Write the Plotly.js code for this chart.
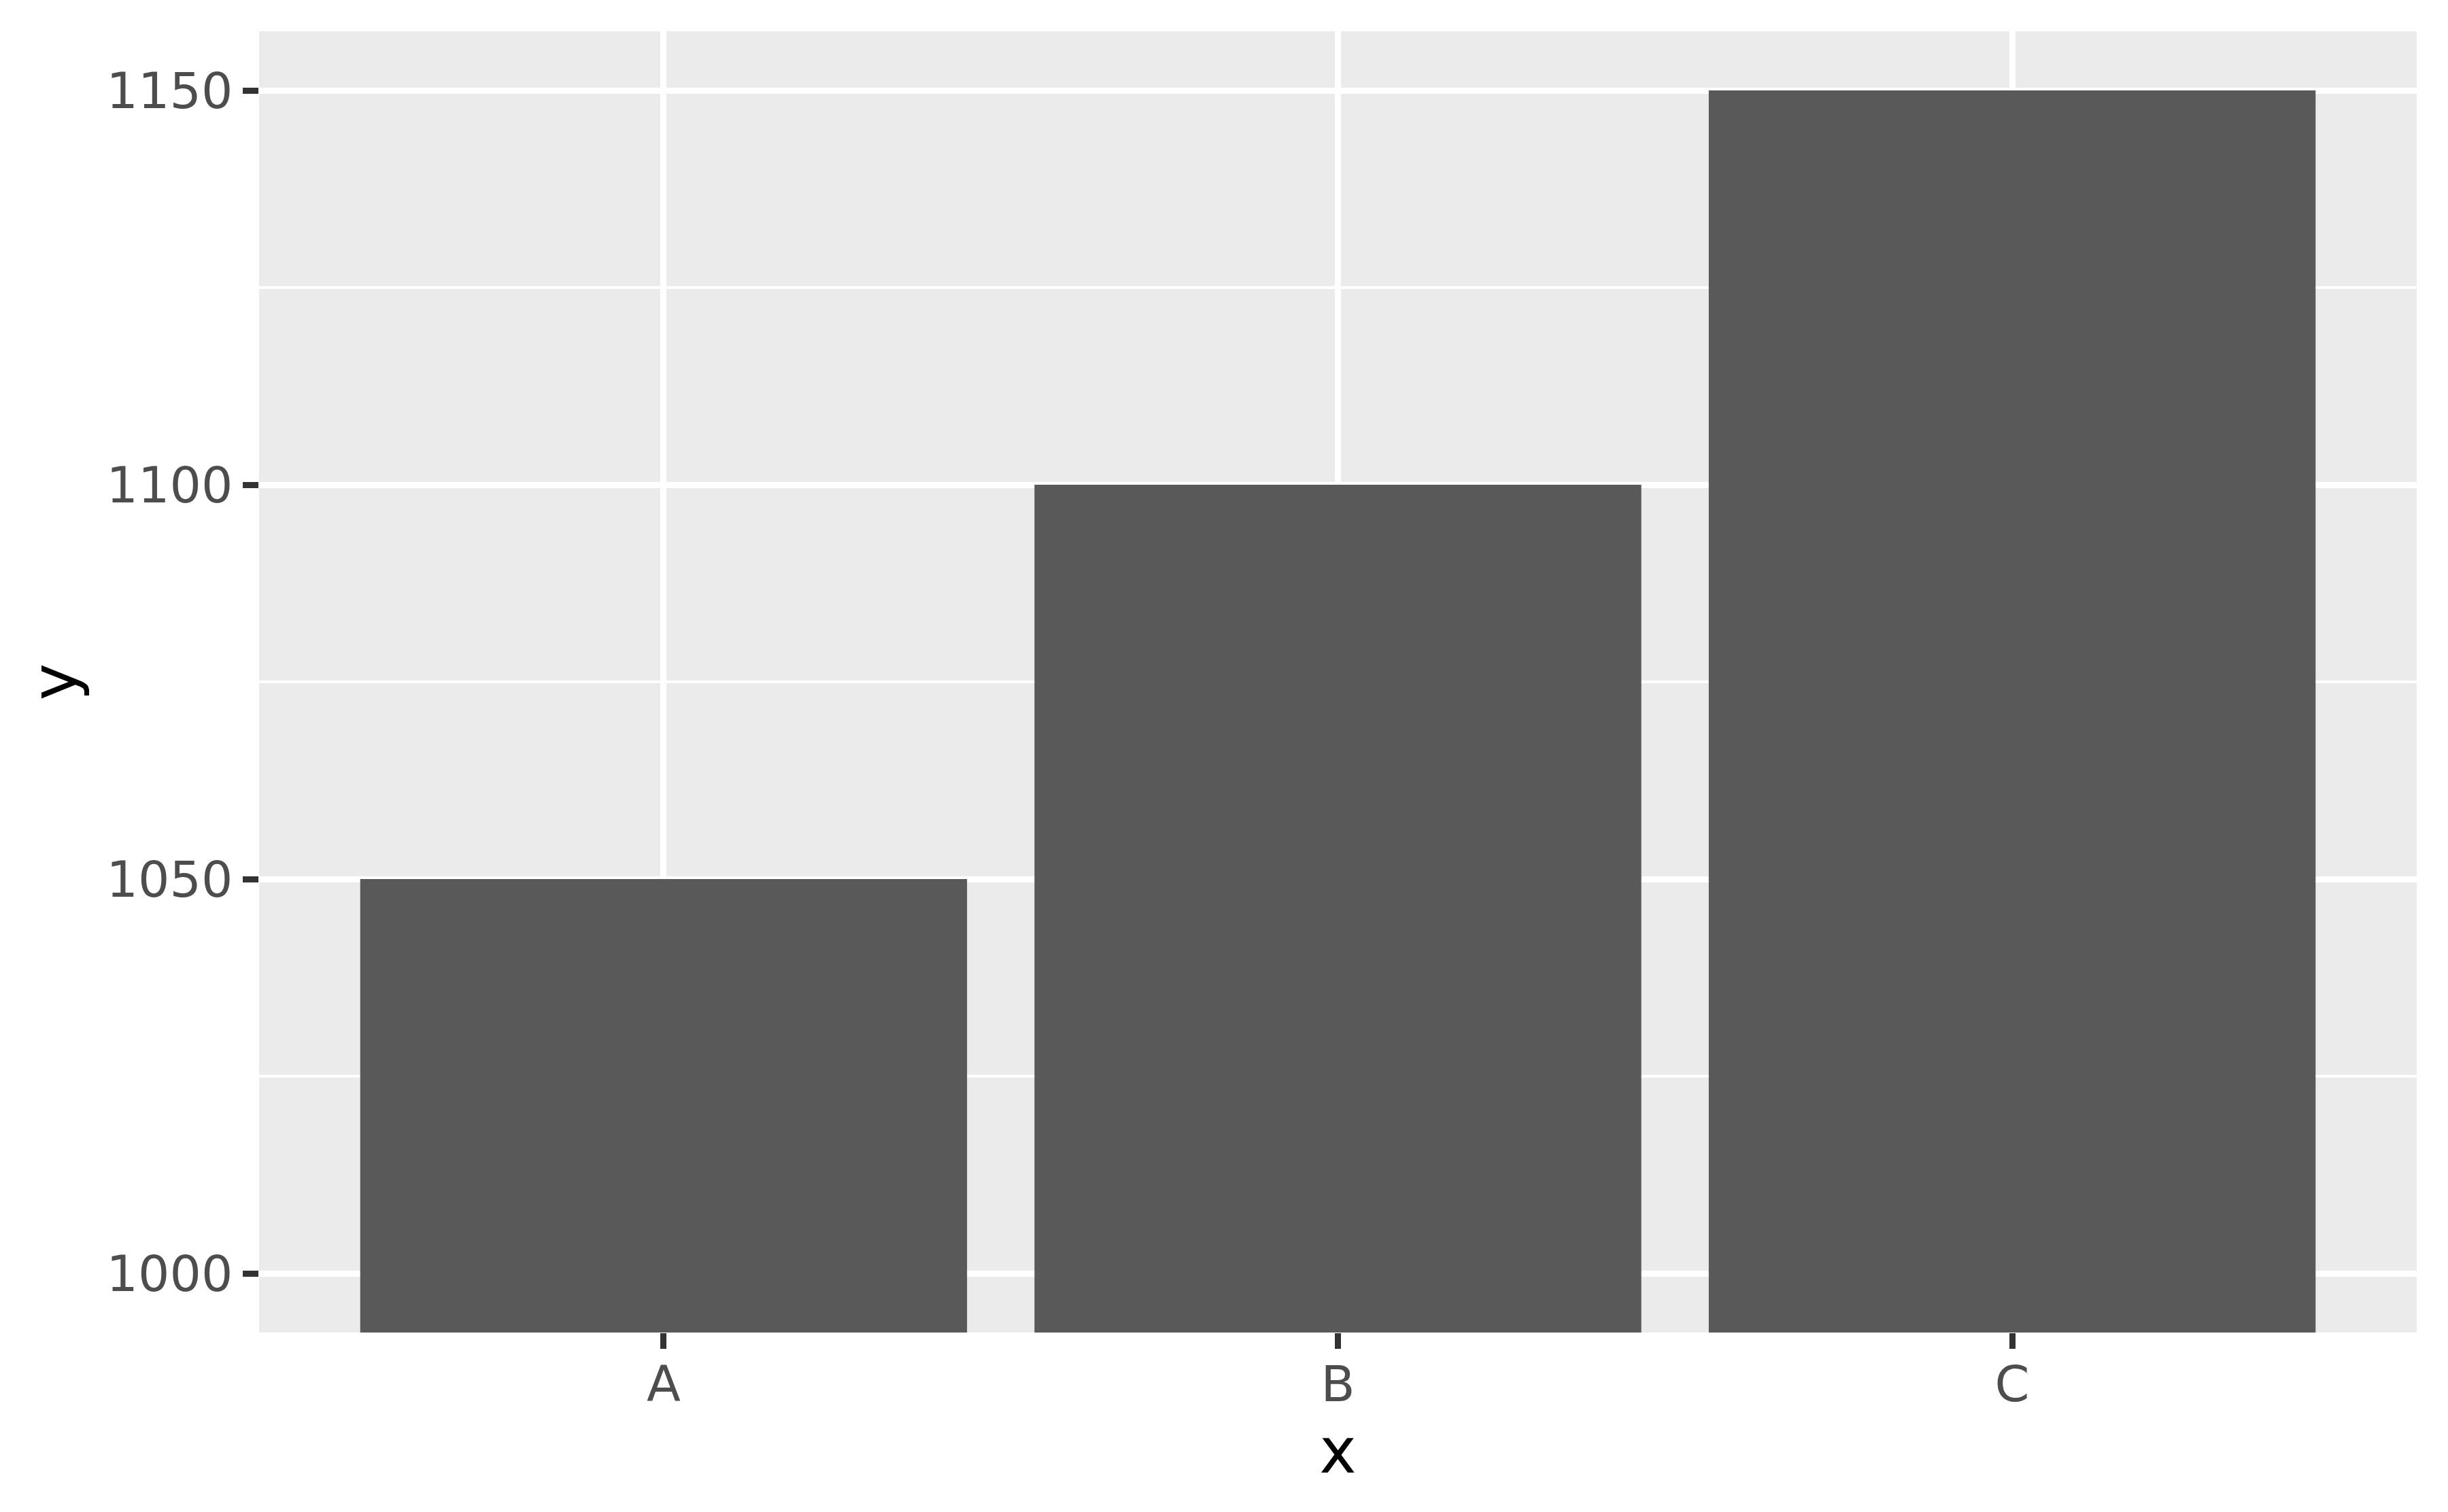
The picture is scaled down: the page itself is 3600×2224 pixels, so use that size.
<!DOCTYPE html>
<html>
<head>
<meta charset="utf-8">
<script src="https://cdn.plot.ly/plotly-3.0.1.min.js"></script>
<style>
  html, body { margin: 0; padding: 0; background: #fff; }
  #chart { width: 3600px; height: 2224px; }
</style>
</head>
<body>
<div id="chart"></div>
<script>
// data
var categories = ['A', 'B', 'C'];
var values = [1050, 1100, 1150];
var yTicks = [1000, 1050, 1100, 1150];

var font = 'DejaVu Sans, sans-serif';

var trace = {
  type: 'bar',
  x: categories,
  y: values,
  width: 0.9,
  marker: { color: '#595959', line: { width: 0 } },
  hoverinfo: 'x+y'
};

var layout = {
  width: 3600,
  height: 2224,
  margin: { l: 381, r: 46, t: 46, b: 264, pad: 0 },
  paper_bgcolor: '#ffffff',
  plot_bgcolor: '#EBEBEB',
  showlegend: false,
  bargap: 0.1,
  xaxis: {
    type: 'category',
    range: [-0.6, 2.6],
    showgrid: true,
    gridcolor: '#ffffff',
    gridwidth: 9,
    zeroline: false,
    showline: false,
    ticks: 'outside',
    ticklen: 23,
    tickwidth: 9,
    tickcolor: '#333333',
    ticklabelstandoff: -11,
    tickfont: { family: font, size: 73, color: '#4D4D4D' },
    title: { text: 'x', font: { family: font, size: 92, color: '#000000' }, standoff: 24 },
    automargin: false
  },
  yaxis: {
    range: [992.5, 1157.5],
    tickvals: yTicks,
    ticktext: yTicks.map(String),
    showgrid: true,
    gridcolor: '#ffffff',
    gridwidth: 9,
    minor: { showgrid: true, gridcolor: '#ffffff', gridwidth: 4.5, tickvals: [1025, 1075, 1125], ticks: '' },
    zeroline: false,
    showline: false,
    ticks: 'outside',
    ticklen: 23,
    tickwidth: 9,
    tickcolor: '#333333',
    tickfont: { family: font, size: 73, color: '#4D4D4D' },
    title: { text: 'y', font: { family: font, size: 92, color: '#000000' }, standoff: 13 },
    automargin: false
  }
};

Plotly.newPlot('chart', [trace], layout, { displayModeBar: false, staticPlot: true });
</script>
</body>
</html>
